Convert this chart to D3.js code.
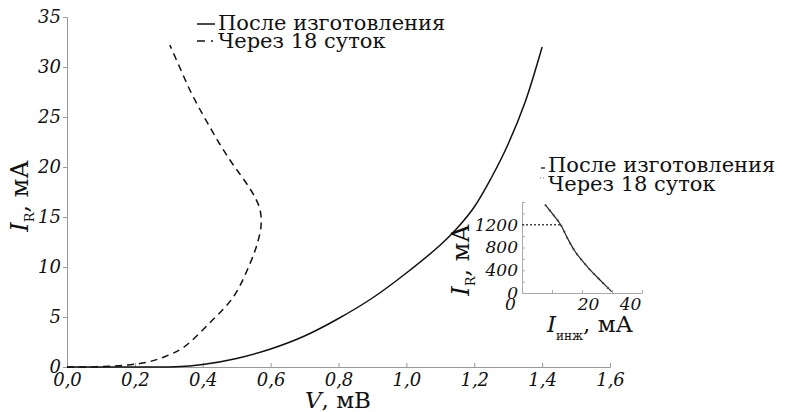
<!DOCTYPE html>
<html>
<head>
<meta charset="utf-8">
<script src="https://cdn.jsdelivr.net/npm/d3@7"></script>
<style>
  body { margin: 0; background: #fff; }
  svg { display: block; }
  text { font-family: "DejaVu Serif", serif; fill: #111; }
</style>
</head>
<body>
<script>
// main chart: после изготовления (solid)
const solidV = [0, 0.1, 0.2, 0.32, 0.4, 0.5, 0.6, 0.7, 0.8, 0.9, 1.0, 1.1, 1.15, 1.2, 1.25, 1.3, 1.35, 1.4];
const solidI = [0, 0, 0, 0.02, 0.25, 0.85, 1.8, 3.1, 4.85, 6.9, 9.4, 12.2, 13.9, 16.0, 18.9, 22.3, 26.5, 32];

// через 18 суток (dashed)
const dashV = [0, 0.1, 0.18, 0.245, 0.3, 0.345, 0.42, 0.49, 0.54, 0.562, 0.572, 0.569, 0.555, 0.532, 0.505, 0.48, 0.45, 0.421, 0.391, 0.362, 0.333, 0.303];
const dashI = [0, 0.03, 0.2, 0.55, 1.2, 2.0, 4.4, 7.0, 10.4, 12.5, 14.2, 15.7, 16.9, 18.2, 19.5, 20.7, 22.3, 24.0, 25.8, 27.7, 29.9, 32.2];

const xTicks = [0, 0.2, 0.4, 0.6, 0.8, 1.0, 1.2, 1.4, 1.6];
const yTicks = [0, 5, 10, 15, 20, 25, 30, 35];

// inset
const insX = [7.7, 10.5, 12.9, 15.2, 17.7, 20.2, 22.7, 26, 29.9];
const insY = [1553, 1370, 1200, 960, 729, 560, 406, 229, 23];
const insGuideX = [0, 12.9];
const insGuideY = [1200, 1200];
const insXTicks = [0, 10, 20, 30, 40];
const insXLabels = [0, 20, 40];
const insYTicks = [0, 200, 400, 600, 800, 1000, 1200, 1400, 1600];
const insYLabels = [0, 400, 800, 1200];

const legendLabels = ["После изготовления", "Через 18 суток"];

const W = 785, H = 412;
const svg = d3.select("body").append("svg").attr("width", W).attr("height", H);

const x = d3.scaleLinear().domain([0, 1.6]).range([67, 610]);
const y = d3.scaleLinear().domain([0, 35]).range([367, 17]);

const comma = (d) => d3.format(".1f")(d).replace(".", ",");

const gx = svg.append("g").attr("transform", "translate(0,367)")
  .call(d3.axisBottom(x).tickValues(xTicks).tickSize(-4).tickFormat(comma));
gx.selectAll("text").attr("y", 6).attr("dy", "0.71em")
  .style("font-style", "italic").style("font-size", "18px");

const gy = svg.append("g").attr("transform", "translate(67,0)")
  .call(d3.axisLeft(y).tickValues(yTicks).tickSize(4).tickPadding(2));
gy.selectAll("text").style("font-style", "italic").style("font-size", "18px");

svg.selectAll(".domain, .tick line").attr("stroke", "#999");

const line = d3.line().x((d) => x(d[0])).y((d) => y(d[1])).curve(d3.curveCatmullRom);

svg.append("path").datum(d3.zip(solidV, solidI)).attr("d", line)
  .attr("fill", "none").attr("stroke", "#111").attr("stroke-width", 1.5);
svg.append("path").datum(d3.zip(dashV, dashI)).attr("d", line)
  .attr("fill", "none").attr("stroke", "#111").attr("stroke-width", 1.5)
  .attr("stroke-dasharray", "7,5");

// axis titles
const yl = svg.append("text").attr("transform", "translate(28,196) rotate(-90)")
  .attr("text-anchor", "middle").style("font-size", "24px");
yl.append("tspan").style("font-style", "italic").text("I");
yl.append("tspan").attr("dy", 6).style("font-size", "13px").text("R");
yl.append("tspan").attr("dy", -6).text(", мА");

const xl = svg.append("text").attr("x", 338).attr("y", 408)
  .attr("text-anchor", "middle").style("font-size", "23px");
xl.append("tspan").style("font-style", "italic").text("V");
xl.append("tspan").text(", мВ");

// top legend
const leg = svg.append("g");
leg.append("line").attr("x1", 197).attr("x2", 215).attr("y1", 24).attr("y2", 24)
  .attr("stroke", "#111").attr("stroke-width", 1.5);
leg.append("line").attr("x1", 197).attr("x2", 216).attr("y1", 41).attr("y2", 41)
  .attr("stroke", "#111").attr("stroke-width", 1.5).attr("stroke-dasharray", "8,6,2,10");
leg.selectAll("text").data(legendLabels).enter().append("text")
  .attr("x", 218).attr("y", (d, i) => 30 + i * 18)
  .style("font-size", "21px").text((d) => d);

// inset
const ix = d3.scaleLinear().domain([0, 40]).range([522, 642]);
const iy = d3.scaleLinear().domain([0, 1600]).range([293, 202]);

const xLabelShift = { 0: -12, 20: 6, 40: -12 };
const igx = svg.append("g").attr("transform", "translate(0,293)")
  .call(d3.axisBottom(ix).tickValues(insXTicks).tickSize(-3).tickSizeOuter(0)
    .tickFormat((d) => (insXLabels.includes(d) ? d : "")));
igx.selectAll("text").attr("y", 5).attr("dx", (d) => xLabelShift[d] || 0)
  .style("font-style", "italic").style("font-size", "17px");

const igy = svg.append("g").attr("transform", "translate(522,0)")
  .call(d3.axisLeft(iy).tickValues(insYTicks).tickSize(-3).tickSizeOuter(0).tickPadding(4)
    .tickFormat((d) => (insYLabels.includes(d) ? d : "")));
igy.selectAll("text").style("font-style", "italic").style("font-size", "17px");
igx.selectAll(".domain, .tick line").attr("stroke", "#aaa");
igy.selectAll(".domain, .tick line").attr("stroke", "#aaa");

const iline = d3.line().x((d) => ix(d[0])).y((d) => iy(d[1])).curve(d3.curveCatmullRom);
svg.append("path").datum(d3.zip(insX, insY)).attr("d", iline)
  .attr("fill", "none").attr("stroke", "#222").attr("stroke-width", 1.2);
svg.append("path").datum(d3.zip(insX, insY)).attr("d", iline)
  .attr("fill", "none").attr("stroke", "#444").attr("stroke-width", 2)
  .attr("stroke-dasharray", "1.5,5");
svg.append("path").datum(d3.zip(insGuideX, insGuideY)).attr("d", iline)
  .attr("fill", "none").attr("stroke", "#444").attr("stroke-width", 1.5)
  .attr("stroke-dasharray", "2,2");

const iyl = svg.append("text").attr("transform", "translate(469,260) rotate(-90)")
  .attr("text-anchor", "middle").style("font-size", "24px");
iyl.append("tspan").style("font-style", "italic").text("I");
iyl.append("tspan").attr("dy", 6).style("font-size", "13px").text("R");
iyl.append("tspan").attr("dy", -6).text(", мА");

const ixl = svg.append("text").attr("x", 590).attr("y", 332)
  .attr("text-anchor", "middle").style("font-size", "23px");
ixl.append("tspan").style("font-style", "italic").text("I");
ixl.append("tspan").attr("dy", 8).style("font-size", "12px").text("инж");
ixl.append("tspan").attr("dy", -8).text(", мА");

// inset legend
const ileg = svg.append("g");
ileg.append("line").attr("x1", 541).attr("x2", 545).attr("y1", 168).attr("y2", 168)
  .attr("stroke", "#333").attr("stroke-width", 1.5);
ileg.append("line").attr("x1", 540).attr("x2", 546).attr("y1", 178).attr("y2", 178)
  .attr("stroke", "#777").attr("stroke-width", 1.2).attr("stroke-dasharray", "1,2");
ileg.selectAll("text").data(legendLabels).enter().append("text")
  .attr("x", 548).attr("y", (d, i) => 172 + i * 19)
  .style("font-size", "21px").text((d) => d);
</script>
</body>
</html>
